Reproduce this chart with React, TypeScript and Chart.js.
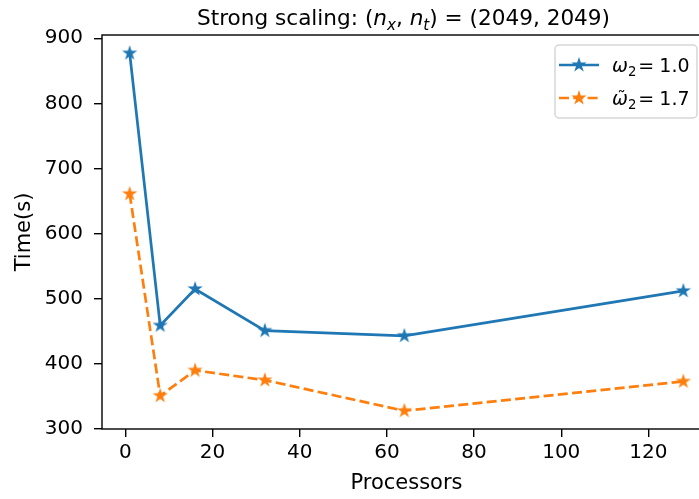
import React, { useEffect, useRef } from "react";
import { Chart, registerables } from "chart.js";

Chart.register(...registerables);

// ---- data ----
const processors = [1, 8, 16, 32, 64, 128];
const timeOmega10 = [877, 459, 515, 451, 443, 512];
const timeOmega17 = [661, 351, 390, 375, 328, 373];
const xTicks = [0, 20, 40, 60, 80, 100, 120];
const yTicks = [300, 400, 500, 600, 700, 800, 900];
const seriesLabels = ["ω2 = 1.0", "ω̃2 = 1.7"];
const legendValues = ["1.0", "1.7"];
const legendTilde = [false, true];
const xLabel = "Processors";
const yLabel = "Time(s)";
const titlePrefix = "Strong scaling: ";
const titleValues = "(2049, 2049)";

const FONT = "'DejaVu Sans', sans-serif";
const BLUE = "#1f77b4";
const ORANGE = "#ff7f0e";
const COLORS = [BLUE, ORANGE];

type Run = { t: string; it?: boolean; sub?: boolean; pre?: number; tilde?: boolean };

function makeStar(color: string): HTMLCanvasElement {
  const c = document.createElement("canvas");
  c.width = 20;
  c.height = 20;
  const ctx = c.getContext("2d")!;
  const R = 5.4;
  const r = R * 0.381966;
  ctx.beginPath();
  for (let i = 0; i < 10; i++) {
    const rad = i % 2 === 0 ? R : r;
    const a = -Math.PI / 2 + (i * Math.PI) / 5;
    const x = 10 + rad * Math.cos(a);
    const y = 10 + rad * Math.sin(a);
    if (i === 0) ctx.moveTo(x, y);
    else ctx.lineTo(x, y);
  }
  ctx.closePath();
  ctx.fillStyle = color;
  ctx.fill();
  ctx.strokeStyle = color;
  ctx.lineWidth = 1.6;
  ctx.lineJoin = "miter";
  ctx.stroke();
  return c;
}

function drawRuns(ctx: CanvasRenderingContext2D, runs: Run[], x: number, y: number, size: number, center: boolean) {
  const items = runs.map((r) => {
    const fs = r.sub ? size * 0.7 : size;
    const font = `${r.it ? "italic " : ""}${fs}px ${FONT}`;
    ctx.font = font;
    const w = ctx.measureText(r.t).width;
    return { ...r, font, w, dy: r.sub ? size * 0.22 : 0 };
  });
  const total = items.reduce((a, b) => a + (b.pre || 0) + b.w, 0);
  let cx = center ? x - total / 2 : x;
  ctx.textBaseline = "alphabetic";
  ctx.textAlign = "left";
  ctx.fillStyle = "#000";
  for (const it of items) {
    cx += it.pre || 0;
    ctx.font = it.font;
    ctx.fillText(it.t, cx, y + it.dy);
    if (it.tilde) {
      ctx.font = `${size * 0.9}px ${FONT}`;
      ctx.textAlign = "center";
      ctx.fillText("˜", cx + it.w / 2 + 1.5, y - size * 0.05);
      ctx.textAlign = "left";
    }
    cx += it.w;
  }
}

const stars: HTMLCanvasElement[] = [];

const decorPlugin = {
  id: "decor",
  afterDraw(chart: any) {
    const ctx: CanvasRenderingContext2D = chart.ctx;
    const ca = chart.chartArea;
    ctx.save();
    // spines
    ctx.strokeStyle = "#000";
    ctx.lineWidth = 1.4;
    ctx.strokeRect(ca.left, ca.top, ca.right - ca.left, ca.bottom - ca.top);

    // title
    const titleRuns: Run[] = [
      { t: titlePrefix },
      { t: "(" },
      { t: "n", it: true },
      { t: "x", it: true, sub: true },
      { t: ", " },
      { t: "n", it: true },
      { t: "t", it: true, sub: true },
      { t: ")" },
      { t: " = " },
      { t: titleValues },
    ];
    drawRuns(ctx, titleRuns, (ca.left + ca.right) / 2 - 3, ca.top - 10, 21.6, true);

    // legend
    const bw = 142;
    const bh = 73;
    const bx = ca.right - 14 - bw;
    const by = ca.top + 10;
    ctx.beginPath();
    ctx.roundRect(bx, by, bw, bh, 4);
    ctx.fillStyle = "rgba(255,255,255,0.8)";
    ctx.fill();
    ctx.strokeStyle = "rgba(204,204,204,0.8)";
    ctx.lineWidth = 1.5;
    ctx.stroke();

    const rowsY = [by + 20, by + 53];
    for (let i = 0; i < 2; i++) {
      const yy = rowsY[i];
      ctx.beginPath();
      ctx.strokeStyle = COLORS[i];
      ctx.lineWidth = 2.7;
      if (i === 1) ctx.setLineDash([10, 4.3]);
      else ctx.setLineDash([]);
      ctx.moveTo(bx + 4, yy);
      ctx.lineTo(bx + 44, yy);
      ctx.stroke();
      ctx.setLineDash([]);
      const star = stars[i];
      ctx.drawImage(star, bx + 24 - star.width / 2, yy - star.height / 2);
      const runs: Run[] = [
        { t: "ω", it: true, tilde: legendTilde[i] },
        { t: "2", sub: true },
        { t: "=", pre: 2 },
        { t: legendValues[i], pre: 5 },
      ];
      drawRuns(ctx, runs, bx + 57, yy + 6.5, 19, false);
    }
    ctx.restore();
  },
};

export default function App() {
  const ref = useRef<HTMLCanvasElement | null>(null);
  useEffect(() => {
    if (!ref.current) return;
    stars.length = 0;
    stars.push(makeStar(BLUE), makeStar(ORANGE));
    const series = [timeOmega10, timeOmega17];
    const chart = new Chart(ref.current, {
      type: "line",
      data: {
        datasets: series.map((vals, i) => ({
          label: seriesLabels[i],
          data: processors.map((x, j) => ({ x, y: vals[j] })),
          borderColor: COLORS[i],
          backgroundColor: COLORS[i],
          borderWidth: 2.7,
          borderDash: i === 1 ? [10, 4.3] : [],
          pointStyle: stars[i] as any,
          pointRadius: 6,
          pointHoverRadius: 6,
          fill: false,
          tension: 0,
        })),
      },
      options: {
        animation: false,
        responsive: false,
        devicePixelRatio: 1,
        events: [],
        layout: { padding: { top: 35, right: 9, left: 0, bottom: 0 } },
        plugins: {
          legend: { display: false },
          title: { display: false },
          tooltip: { enabled: false },
        },
        scales: {
          x: {
            type: "linear",
            min: -5.35,
            max: 134.35,
            bounds: "data",
            afterBuildTicks: (s: any) => {
              s.ticks = xTicks.map((v) => ({ value: v }));
            },
            afterFit: (s: any) => {
              s.height = 70;
            },
            ticks: {
              autoSkip: false,
              maxRotation: 0,
              font: { family: FONT, size: 20 },
              color: "#000",
              padding: 4,
              callback: (v: any) => String(v),
            },
            grid: { drawOnChartArea: false, drawTicks: true, tickLength: 8, color: "#000", lineWidth: 1.4 },
            border: { display: false },
            title: {
              display: true,
              text: xLabel,
              font: { family: FONT, size: 21 },
              color: "#000",
              padding: { top: 0, bottom: 2.7 },
            },
          },
          y: {
            type: "linear",
            min: 300,
            max: 905,
            bounds: "data",
            afterBuildTicks: (s: any) => {
              s.ticks = yTicks.map((v) => ({ value: v }));
            },
            afterFit: (s: any) => {
              s.width = 102;
            },
            ticks: {
              autoSkip: false,
              font: { family: FONT, size: 20 },
              color: "#000",
              padding: 11,
              callback: (v: any) => String(v),
            },
            grid: { drawOnChartArea: false, drawTicks: true, tickLength: 8, color: "#000", lineWidth: 1.4 },
            border: { display: false },
            title: {
              display: true,
              text: yLabel,
              font: { family: FONT, size: 21 },
              color: "#000",
              padding: { top: 12, bottom: 0 },
            },
          },
        },
      } as any,
      plugins: [decorPlugin],
    });
    return () => chart.destroy();
  }, []);

  return (
    <div
      style={{
        position: "fixed",
        left: 0,
        top: 0,
        width: 699,
        height: 499,
        overflow: "hidden",
        background: "#fff",
      }}
    >
      <canvas ref={ref} width={720} height={499} style={{ display: "block", width: 720, height: 499 }} />
    </div>
  );
}
